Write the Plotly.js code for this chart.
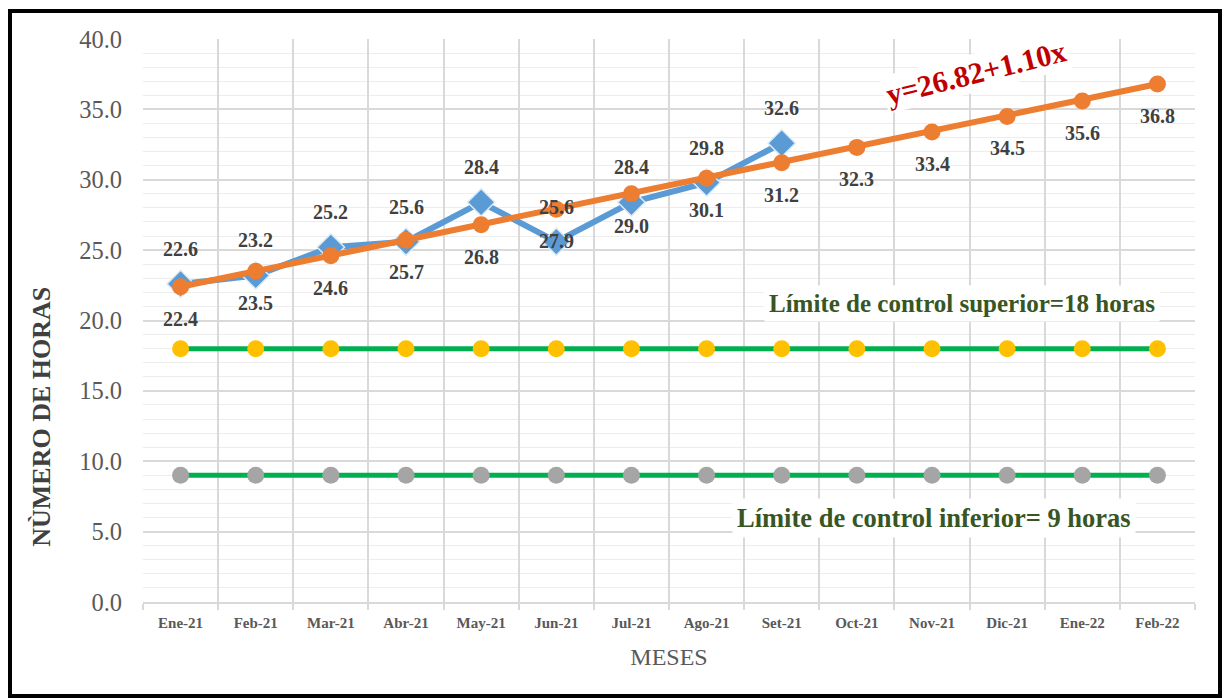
<!DOCTYPE html>
<html>
<head>
<meta charset="utf-8">
<script src="https://cdn.plot.ly/plotly-3.0.1.min.js"></script>
<style>
html,body{margin:0;padding:0;background:#fff;}
#wrap{position:relative;width:1224px;height:698px;}
#chart{position:absolute;left:0;top:0;width:1224px;height:698px;}
#frame{position:absolute;left:8px;top:9px;width:1206px;height:681px;border:4px solid #000;pointer-events:none;box-sizing:content-box;}
</style>
</head>
<body>
<div id="wrap"><div id="chart"></div><div id="frame"></div></div>
<script>
const months = ["Ene-21","Feb-21","Mar-21","Abr-21","May-21","Jun-21","Jul-21","Ago-21","Set-21","Oct-21","Nov-21","Dic-21","Ene-22","Feb-22"];
const actual = [22.6, 23.2, 25.2, 25.6, 28.4, 25.6, 28.4, 29.8, 32.6];
const trend = [22.4, 23.5, 24.6, 25.7, 26.8, 27.9, 29.0, 30.1, 31.2, 32.3, 33.4, 34.5, 35.6, 36.8];
const upperLimit = [18,18,18,18,18,18,18,18,18,18,18,18,18,18];
const lowerLimit = [9,9,9,9,9,9,9,9,9,9,9,9,9,9];
const upperText = "Límite de control superior=18 horas";
const lowerText = "Límite de control inferior= 9 horas";
const equationText = "y=26.82+1.10x";
const yTitle = "NÙMERO DE HORAS";
const xTitle = "MESES";

const serif = "'Liberation Serif', Tinos, 'Times New Roman', 'DejaVu Serif', serif";

const traces = [
  {x: months, y: upperLimit, type: "scatter", mode: "lines+markers",
   line: {color: "#00B050", width: 5},
   marker: {color: "#FFC000", size: 17, line: {width: 0}},
   hoverinfo: "skip"},
  {x: months, y: lowerLimit, type: "scatter", mode: "lines+markers",
   line: {color: "#00B050", width: 5},
   marker: {color: "#A5A5A5", size: 17, line: {width: 0}},
   hoverinfo: "skip"},
  {x: months.slice(0, actual.length), y: actual, type: "scatter", mode: "lines+markers",
   line: {color: "#5B9BD5", width: 6},
   marker: {symbol: "diamond", color: "#5B9BD5", size: 21, line: {color: "#DDEBF7", width: 1.5}},
   hoverinfo: "skip"},
  {x: months, y: trend, type: "scatter", mode: "lines+markers",
   line: {color: "#ED7D31", width: 6},
   marker: {color: "#ED7D31", size: 17},
   hoverinfo: "skip"}
];

const annotations = [];
actual.forEach((v, i) => annotations.push({
  x: months[i], y: v, xref: "x", yref: "y", text: "<b>" + v.toFixed(1) + "</b>", showarrow: false,
  yshift: 35, font: {family: serif, size: 20, color: "#404040"}
}));
trend.forEach((v, i) => annotations.push({
  x: months[i], y: v, xref: "x", yref: "y", text: "<b>" + v.toFixed(1) + "</b>", showarrow: false,
  yshift: -32, font: {family: serif, size: 20, color: "#404040"}
}));
annotations.push({
  x: 0.7785, y: 21.2, xref: "paper", yref: "y", xanchor: "center", yanchor: "middle",
  text: "<b>" + upperText + "</b>", showarrow: false,
  bgcolor: "#FFFFFF", borderpad: 4,
  font: {family: serif, size: 25, color: "#375623"}
});
annotations.push({
  x: 0.752, y: 5.97, xref: "paper", yref: "y", xanchor: "center", yanchor: "middle",
  text: "<b>" + lowerText + "</b>", showarrow: false,
  bgcolor: "#FFFFFF", borderpad: 4,
  font: {family: serif, size: 26.5, color: "#375623"}
});
annotations.push({
  x: 0.792, y: 37.6, xref: "paper", yref: "y", xanchor: "center", yanchor: "middle",
  text: "<b>" + equationText + "</b>", showarrow: false,
  textangle: -14, bgcolor: "#FFFFFF", borderpad: 2,
  font: {family: serif, size: 30, color: "#C00000"}
});
annotations.push({
  x: -0.096, y: 0.329, xref: "paper", yref: "paper", xanchor: "center", yanchor: "middle",
  text: "<b>" + yTitle + "</b>", showarrow: false, textangle: -90,
  font: {family: serif, size: 26, color: "#404040"}
});

const layout = {
  width: 1224, height: 698,
  margin: {l: 143, r: 29, t: 39, b: 96},
  paper_bgcolor: "#FFFFFF", plot_bgcolor: "#FFFFFF",
  showlegend: false,
  font: {family: serif},
  xaxis: {
    type: "category", tickson: "boundaries", ticks: "outside", ticklen: 6, tickcolor: "#D9D9D9", tickwidth: 2,
    showgrid: true, gridcolor: "#D9D9D9", gridwidth: 2,
    showline: true, linecolor: "#D9D9D9", linewidth: 2,
    range: [-0.5, 13.5], ticklabelstandoff: 6,
    tickfont: {family: serif, size: 15, color: "#595959", weight: "bold"},
    title: {text: xTitle, font: {family: serif, size: 24, color: "#595959"}, standoff: 18},
    fixedrange: true
  },
  yaxis: {
    range: [0, 40], dtick: 5, tickformat: ".1f",
    showgrid: true, gridcolor: "#D9D9D9", gridwidth: 2,
    minor: {dtick: 1, showgrid: true, gridcolor: "#EDEDED", gridwidth: 1},
    zeroline: false, showline: false, ticks: "", ticklabelstandoff: 20,
    tickfont: {family: serif, size: 24.5, color: "#595959"},
    fixedrange: true
  },
  annotations: annotations
};

Plotly.newPlot("chart", traces, layout, {staticPlot: true, displayModeBar: false});
</script>
</body>
</html>
